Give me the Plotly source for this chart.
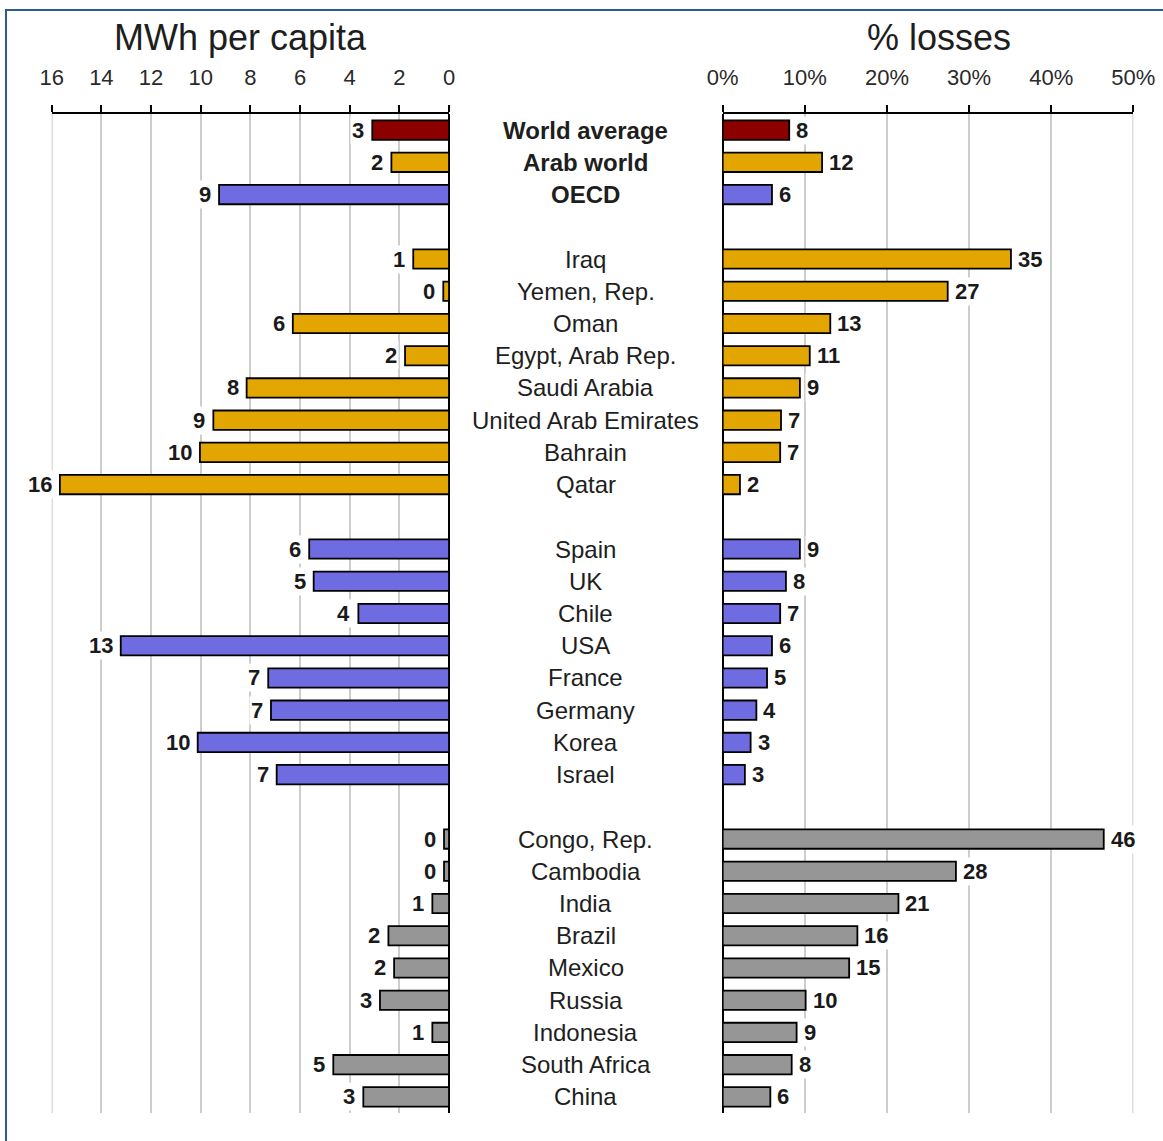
import plotly.graph_objects as go

# ---- data -------------------------------------------------------------
categories = [
    "World average", "Arab world", "OECD",
    "Iraq", "Yemen, Rep.", "Oman", "Egypt, Arab Rep.", "Saudi Arabia",
    "United Arab Emirates", "Bahrain", "Qatar",
    "Spain", "UK", "Chile", "USA", "France", "Germany", "Korea", "Israel",
    "Congo, Rep.", "Cambodia", "India", "Brazil", "Mexico", "Russia",
    "Indonesia", "South Africa", "China",
]

# colour group of each bar
groups = (
    ["world", "arab", "oecd"]
    + ["arab"] * 8
    + ["oecd"] * 8
    + ["other"] * 9
)

# block of rows each category belongs to (a blank row separates blocks)
sections = [0] * 3 + [1] * 8 + [2] * 8 + [3] * 9

# electricity consumption, MWh per capita
mwh_per_capita = [
    3.09, 2.32, 9.26,
    1.44, 0.23, 6.29, 1.77, 8.15, 9.49, 10.03, 15.67,
    5.63, 5.45, 3.65, 13.22, 7.28, 7.17, 10.12, 6.94,
    0.20, 0.20, 0.67, 2.44, 2.21, 2.78, 0.67, 4.66, 3.45,
]

# transmission & distribution losses, % of output
pct_losses = [
    8.1, 12.1, 6.0,
    35.1, 27.4, 13.1, 10.6, 9.4, 7.1, 7.0, 2.1,
    9.4, 7.7, 7.0, 6.0, 5.4, 4.1, 3.4, 2.7,
    46.4, 28.4, 21.4, 16.4, 15.4, 10.1, 9.0, 8.4, 5.8,
]

summary_rows = ["World average", "Arab world", "OECD"]

left_ticks = [16, 14, 12, 10, 8, 6, 4, 2, 0]
right_ticks = [0, 10, 20, 30, 40, 50]
right_tick_text = ["0%", "10%", "20%", "30%", "40%", "50%"]

# ---- styling ----------------------------------------------------------
W, H = 1163, 1141
TOP, BOTTOM = 114, 1113
FONT = "Liberation Sans, Arial, sans-serif"
GRID = "#cdcdcd"
palette = {
    "world": "#8C0000",
    "arab": "#E3A600",
    "oecd": "#6F6BE0",
    "other": "#969696",
}
colors = [palette[g] for g in groups]
rows = [i + s for i, s in enumerate(sections)]
n_rows = rows[-1] + 1


def px_x(px):
    return px / W


def px_y(py):
    return (BOTTOM - py) / (BOTTOM - TOP)


bar_style = dict(
    orientation="h",
    width=0.6,
    marker=dict(color=colors, line=dict(color="#000000", width=1.8)),
    hoverinfo="skip",
    showlegend=False,
)

fig = go.Figure()
fig.add_trace(go.Bar(x=mwh_per_capita, y=rows, xaxis="x", yaxis="y", **bar_style))
fig.add_trace(go.Bar(x=pct_losses, y=rows, xaxis="x2", yaxis="y", **bar_style))

axis_common = dict(
    side="top",
    anchor="y",
    automargin=False,
    showline=True,
    linecolor="#000000",
    linewidth=2,
    ticks="outside",
    ticklen=7,
    tickwidth=2,
    tickcolor="#000000",
    showgrid=True,
    gridcolor=GRID,
    gridwidth=2,
    zeroline=True,
    zerolinecolor="#000000",
    zerolinewidth=2,
    tickfont=dict(family=FONT, size=22, color="#2a2a2a"),
    ticklabelstandoff=11,
    fixedrange=True,
)

annotations = []

# centre column of category names
for name, r in zip(categories, rows):
    txt = f"<b>{name}</b>" if name in summary_rows else name
    annotations.append(dict(
        x=px_x(585.9), xref="paper", y=r, yref="y",
        text=txt, showarrow=False, xanchor="center", yanchor="middle",
        font=dict(family=FONT, size=24, color="#1e1e1e"),
    ))

# value labels at the end of each bar
for v, r in zip(mwh_per_capita, rows):
    annotations.append(dict(
        x=v, xref="x", y=r, yref="y", text=f"<b>{v:.0f}</b>",
        showarrow=False, xanchor="right", yanchor="middle", xshift=-6,
        bgcolor="#ffffff", borderpad=1,
        font=dict(family=FONT, size=22, color="#1a1a1a"),
    ))
for v, r in zip(pct_losses, rows):
    annotations.append(dict(
        x=v, xref="x2", y=r, yref="y", text=f"<b>{v:.0f}</b>",
        showarrow=False, xanchor="left", yanchor="middle", xshift=5,
        bgcolor="#ffffff", borderpad=1,
        font=dict(family=FONT, size=22, color="#1a1a1a"),
    ))

# panel titles
annotations.append(dict(
    x=px_x(240), xref="paper", y=px_y(38), yref="paper",
    text="MWh per capita", showarrow=False, xanchor="center", yanchor="middle",
    font=dict(family=FONT, size=36, color="#1e1e1e"),
))
annotations.append(dict(
    x=px_x(939), xref="paper", y=px_y(38), yref="paper",
    text="% losses", showarrow=False, xanchor="center", yanchor="middle",
    font=dict(family=FONT, size=36, color="#1e1e1e"),
))

shapes = [
    # gridlines on the outer edge of each panel
    dict(type="line", xref="x", yref="paper", x0=16, x1=16, y0=0, y1=1,
         line=dict(color=GRID, width=2), layer="below"),
    dict(type="line", xref="x2", yref="paper", x0=50, x1=50, y0=0, y1=1,
         line=dict(color=GRID, width=2), layer="below"),
    # frame around the figure
    dict(
        type="rect", xref="paper", yref="paper",
        x0=px_x(6), x1=px_x(W + 20), y0=px_y(H + 20), y1=px_y(10),
        line=dict(color="#2B5C8C", width=2), fillcolor="rgba(0,0,0,0)",
        layer="above",
    ),
]

fig.update_layout(
    width=W,
    height=H,
    autosize=False,
    margin=dict(l=0, r=0, t=TOP, b=H - BOTTOM, pad=0, autoexpand=False),
    paper_bgcolor="#ffffff",
    plot_bgcolor="#ffffff",
    bargap=0.4,
    xaxis=dict(
        domain=[px_x(51.7), px_x(449)],
        range=[16, 0],
        tickvals=left_ticks,
        **axis_common,
    ),
    xaxis2=dict(
        domain=[px_x(722.7), px_x(1133.3)],
        range=[0, 50],
        tickvals=right_ticks,
        ticktext=right_tick_text,
        **axis_common,
    ),
    yaxis=dict(
        range=[n_rows - 0.5, -0.5],
        automargin=False,
        showticklabels=False,
        showgrid=False,
        zeroline=False,
        showline=False,
        ticks="",
        fixedrange=True,
    ),
    annotations=annotations,
    shapes=shapes,
)

fig.write_html("out.html")
